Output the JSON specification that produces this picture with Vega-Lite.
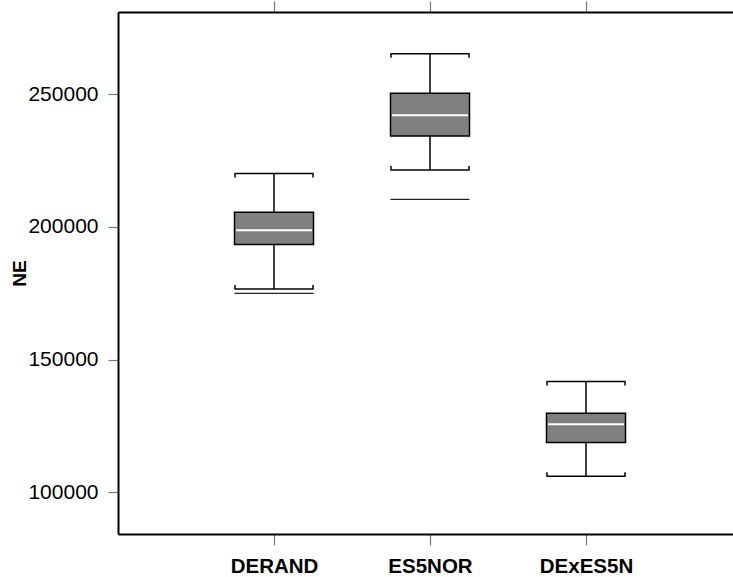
{
  "$schema": "https://vega.github.io/schema/vega-lite/v6.json",
  "autosize": "none",
  "padding": {"left": 118, "top": 12, "right": 0, "bottom": 43},
  "width": 624,
  "height": 522,
  "background": "white",
  "config": {
    "view": {"stroke": null},
    "font": "Liberation Sans",
    "axis": {"grid": false, "domainColor": "black", "domainWidth": 2, "tickColor": "#777777", "tickWidth": 1.2, "labelColor": "black", "labelFont": "Liberation Sans", "titleFont": "Liberation Sans", "titleColor": "black"}
  },
  "datasets": {
    "boxes": [
      {"group": "DERAND", "lo": 176670, "q1": 193420, "med": 198800, "q3": 205600, "hi": 220200},
      {"group": "ES5NOR", "lo": 221450, "q1": 234270, "med": 242080, "q3": 250380, "hi": 265300},
      {"group": "DExES5N", "lo": 106020, "q1": 118730, "med": 125640, "q3": 129790, "hi": 141740}
    ],
    "outliers": [
      {"group": "DERAND", "value": 174940},
      {"group": "ES5NOR", "value": 210390}
    ]
  },
  "data": {"name": "boxes"},
  "resolve": {"axis": {"x": "independent"}},
  "layer": [
    {
      "mark": {"type": "rule", "color": "black", "strokeWidth": 1.5},
      "encoding": {
        "x": {"field": "group", "type": "nominal", "sort": ["DERAND", "ES5NOR", "DExES5N"], "scale": {"type": "point", "padding": 1},
          "axis": {"orient": "bottom", "title": null, "labelFontSize": 20.5, "labelFontWeight": "bold", "tickSize": 11, "labelPadding": 11, "labelAngle": 0}},
        "y": {"field": "q3", "type": "quantitative", "scale": {"domain": [84270, 281040], "nice": false, "zero": false},
          "axis": {"title": "NE", "titleFontSize": 19, "titleFontWeight": "bold", "titleX": -99, "titleY": 261, "titleAngle": -90, "titleAlign": "center", "titleBaseline": "middle", "labelFontSize": 21, "tickSize": 10, "labelPadding": 10, "values": [100000, 150000, 200000, 250000], "format": "d"}},
        "y2": {"field": "hi"}
      }
    },
    {
      "mark": {"type": "rule", "color": "black", "strokeWidth": 1.5},
      "encoding": {
        "x": {"field": "group", "type": "nominal", "sort": ["DERAND", "ES5NOR", "DExES5N"],
          "axis": {"orient": "top", "title": null, "labels": false, "tickSize": 11}},
        "y": {"field": "lo", "type": "quantitative"},
        "y2": {"field": "q1"}
      }
    },
    {
      "mark": {"type": "bar", "size": 79, "fill": "#808080", "stroke": "black", "strokeWidth": 1.5},
      "encoding": {
        "x": {"field": "group", "type": "nominal", "sort": ["DERAND", "ES5NOR", "DExES5N"], "axis": null},
        "y": {"field": "q1", "type": "quantitative"},
        "y2": {"field": "q3"}
      }
    },
    {
      "mark": {"type": "tick", "orient": "horizontal", "size": 76, "thickness": 2, "color": "white", "opacity": 1},
      "encoding": {
        "x": {"field": "group", "type": "nominal", "sort": ["DERAND", "ES5NOR", "DExES5N"], "axis": null},
        "y": {"field": "med", "type": "quantitative"}
      }
    },
    {
      "mark": {"type": "tick", "orient": "horizontal", "size": 79, "thickness": 1.5, "color": "black", "opacity": 1},
      "encoding": {
        "x": {"field": "group", "type": "nominal", "sort": ["DERAND", "ES5NOR", "DExES5N"], "axis": null},
        "y": {"field": "hi", "type": "quantitative"}
      }
    },
    {
      "mark": {"type": "tick", "orient": "horizontal", "size": 79, "thickness": 1.5, "color": "black", "opacity": 1},
      "encoding": {
        "x": {"field": "group", "type": "nominal", "sort": ["DERAND", "ES5NOR", "DExES5N"], "axis": null},
        "y": {"field": "lo", "type": "quantitative"}
      }
    },
    {
      "mark": {"type": "tick", "orient": "vertical", "size": 4, "thickness": 1.5, "color": "black", "opacity": 1, "xOffset": -39, "yOffset": 2},
      "encoding": {
        "x": {"field": "group", "type": "nominal", "sort": ["DERAND", "ES5NOR", "DExES5N"], "axis": null},
        "y": {"field": "hi", "type": "quantitative"}
      }
    },
    {
      "mark": {"type": "tick", "orient": "vertical", "size": 4, "thickness": 1.5, "color": "black", "opacity": 1, "xOffset": 39, "yOffset": 2},
      "encoding": {
        "x": {"field": "group", "type": "nominal", "sort": ["DERAND", "ES5NOR", "DExES5N"], "axis": null},
        "y": {"field": "hi", "type": "quantitative"}
      }
    },
    {
      "mark": {"type": "tick", "orient": "vertical", "size": 4, "thickness": 1.5, "color": "black", "opacity": 1, "xOffset": -39, "yOffset": -2},
      "encoding": {
        "x": {"field": "group", "type": "nominal", "sort": ["DERAND", "ES5NOR", "DExES5N"], "axis": null},
        "y": {"field": "lo", "type": "quantitative"}
      }
    },
    {
      "mark": {"type": "tick", "orient": "vertical", "size": 4, "thickness": 1.5, "color": "black", "opacity": 1, "xOffset": 39, "yOffset": -2},
      "encoding": {
        "x": {"field": "group", "type": "nominal", "sort": ["DERAND", "ES5NOR", "DExES5N"], "axis": null},
        "y": {"field": "lo", "type": "quantitative"}
      }
    },
    {
      "data": {"name": "outliers"},
      "mark": {"type": "tick", "orient": "horizontal", "size": 79, "thickness": 1.2, "color": "#222222", "opacity": 1},
      "encoding": {
        "x": {"field": "group", "type": "nominal", "sort": ["DERAND", "ES5NOR", "DExES5N"], "axis": null},
        "y": {"field": "value", "type": "quantitative"}
      }
    }
  ]
}
